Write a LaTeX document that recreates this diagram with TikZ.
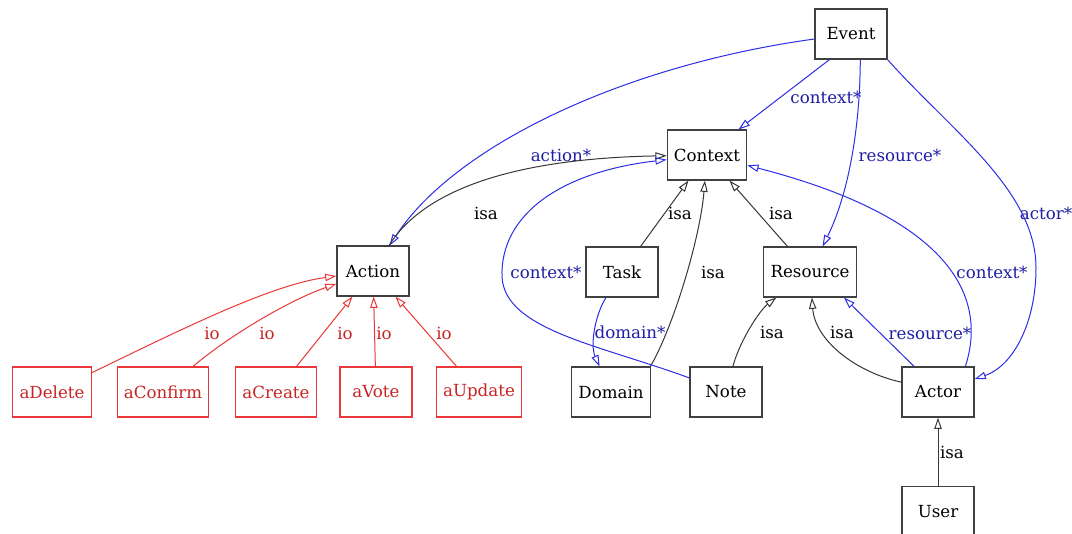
\documentclass[tikz,border=0pt]{standalone}
\usepackage{fontspec}
\setmainfont{DejaVu Serif}
\usepackage{tikz}
\usetikzlibrary{arrows.meta, positioning}

\definecolor{refblue}{RGB}{45,45,230}
\definecolor{refbluetext}{RGB}{30,30,165}
\definecolor{iored}{RGB}{235,55,55}
\definecolor{ioredtext}{RGB}{200,35,35}
\definecolor{isagray}{RGB}{55,55,55}

\begin{document}
\begin{tikzpicture} [
        x = 0.75pt, y = -0.75pt,
        cls/.style = {rectangle, draw=black!75, line width=0.8pt, minimum width=54pt, minimum height=37.5pt, inner xsep=5pt, font=\fontsize{12.5}{15}\selectfont},
        iocls/.style = {cls, draw=iored, text=ioredtext},
        isaedge/.style = {draw=isagray, line width=0.75pt, -{Triangle[open, length=8.5pt, width=5.5pt]}},
        refedge/.style = {isaedge, draw=refblue},
        ioedge/.style = {isaedge, draw=iored},
        lbl/.style = {font=\fontsize{12.5}{15}\selectfont, inner sep=1pt},
        bluelbl/.style = {lbl, text=refbluetext},
        redlbl/.style = {lbl, text=ioredtext}
    ]

    \path[use as bounding box, fill=white] (0,0) rectangle (1072,533);

    \node[cls] (event)    at (851,34)  {Event};
    \node[cls] (context)  at (707,155) {Context};
    \node[cls] (action)   at (373,271) {Action};
    \node[cls] (task)     at (622,272) {Task};
    \node[cls] (resource) at (810,272) {Resource};
    \node[cls] (domain)   at (611,392) {Domain};
    \node[cls] (note)     at (726,392) {Note};
    \node[cls] (actor)    at (938,392) {Actor};
    \node[cls, below = 51pt of actor] (user) {User};

    \node[iocls] (adelete)  at (52,392)  {aDelete};
    \node[iocls] (aconfirm) at (163,392) {aConfirm};
    \node[iocls] (acreate)  at (276,392) {aCreate};
    \node[iocls] (avote)    at (376,392) {aVote};
    \node[iocls] (aupdate)  at (479,392) {aUpdate};

    % event
    \draw[refedge] (event) .. controls (625,65) and (455,145) .. (action) node[bluelbl] at (561,155) {action*};
    \draw[refedge] (event.230) -- (context.39) node[bluelbl] at (826,97) {context*};
    \draw[refedge] (event.290) .. controls (860,130) and (848,195) .. (resource) node[bluelbl] at (900,155) {resource*};
    \draw[refedge] (event.south east) .. controls (950,130) and (1036,190) .. (1036,268)
        .. controls (1036,320) and (1015,365) .. (actor) node[bluelbl] at (1046,213) {actor*};

    % isa
    \draw[isaedge] (action) .. controls (430,180) and (540,158) .. (context) node[lbl] at (486,213) {isa};
    \draw[isaedge] (task) -- (context) node[lbl] at (680,213) {isa};
    \draw[isaedge] (domain.33) .. controls (672,330) and (700,240) .. (context) node[lbl] at (713,272) {isa};
    \draw[isaedge] (resource) -- (context) node[lbl] at (781,213) {isa};
    \draw[isaedge] (note) .. controls (740,340) and (760,310) .. (resource) node[lbl] at (772,332) {isa};
    \draw[isaedge] (actor.165) .. controls (855,372) and (815,340) .. (resource) node[lbl] at (842,332) {isa};
    \draw[isaedge] (user) -- (actor) node[lbl] at (952,452) {isa};

    % references
    \draw[refedge] (note.159) .. controls (600,345) and (505,330) .. (502,277)
        .. controls (500,215) and (560,172) .. (context) node[bluelbl] at (546,272) {context*};
    \draw[refedge] (actor.43) .. controls (990,290) and (940,215) .. (context) node[bluelbl] at (992,272) {context*};
    \draw[refedge] (task) .. controls (595,315) and (590,345) .. (domain) node[bluelbl] at (630,332) {domain*};
    \draw[refedge] (actor.133) -- (resource.323) node[bluelbl] at (930,333) {resource*};

    % io
    \draw[ioedge] (adelete) .. controls (180,330) and (270,285) .. (action) node[redlbl] at (212,333) {io};
    \draw[ioedge] (aconfirm) .. controls (230,335) and (290,300) .. (action) node[redlbl] at (267,333) {io};
    \draw[ioedge] (acreate) -- (action) node[redlbl] at (345,333) {io};
    \draw[ioedge] (avote) -- (action) node[redlbl] at (384,333) {io};
    \draw[ioedge] (aupdate) -- (action) node[redlbl] at (444,333) {io};

\end{tikzpicture}
\end{document}
